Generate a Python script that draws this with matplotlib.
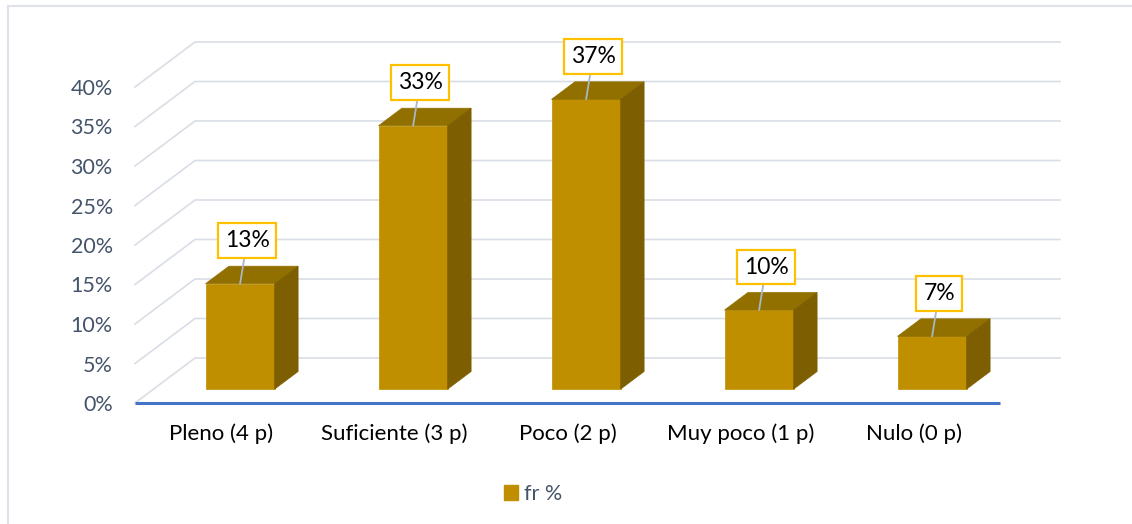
import numpy as np
import matplotlib
matplotlib.use("Agg")
import matplotlib.pyplot as plt
from matplotlib.patches import Polygon, Patch
from matplotlib.lines import Line2D
from matplotlib.transforms import IdentityTransform

# ---- datos ----
categories = ["Pleno (4 p)", "Suficiente (3 p)", "Poco (2 p)", "Muy poco (1 p)", "Nulo (0 p)"]
fr_pct = [0.1333, 0.3333, 0.3667, 0.1000, 0.0667]
y_ticks = [0.0, 0.05, 0.10, 0.15, 0.20, 0.25, 0.30, 0.35, 0.40]
series_name = "fr %"

# ---- estilo ----
plt.rcParams['font.family'] = ['Lato', 'DejaVu Sans']
c_front = "#BF8F00"
c_top = "#927000"
c_side = "#7D5E00"
c_grid = "#D9DDE5"
c_axis = "#4472C4"
c_label_border = "#FFC000"
c_txt = "#44546A"

W, H = 1132, 524
fig = plt.figure(figsize=(W / 100, H / 100), dpi=100)

# plano frontal del grafico 3D
ax = fig.add_axes([135 / W, (H - 403) / H, 865 / W, 316 / H])
ax.set_xlim(-0.5, len(categories) - 0.5)
ax.set_ylim(0, 0.40)
for s in ax.spines.values():
    s.set_visible(False)
ax.set_facecolor("none")

# profundidad (pixeles)
depth = np.array([60.0, 45.0])
bar_front, bar_back = 0.31, 0.70
bar_w = 0.40

def px(x, y):
    return ax.transData.transform((x, y))

ident = IdentityTransform()

# rejilla: pared del fondo + diagonales
for t in y_ticks:
    p0 = px(-0.5, t)
    p1 = p0 + depth
    p2 = px(len(categories) - 0.5, t) + depth
    ax.add_line(Line2D([p0[0], p1[0], p2[0]], [p0[1], p1[1], p2[1]],
                       color=c_grid, lw=1.2, transform=ident, zorder=1, clip_on=False))

# eje horizontal
a0, a1 = px(-0.5, 0), px(len(categories) - 0.5, 0)
ax.add_line(Line2D([a0[0], a1[0]], [a0[1], a1[1]], color=c_axis, lw=2.2,
                   transform=ident, zorder=2, clip_on=False, solid_capstyle='butt'))

# barras 3D
for i, v in enumerate(fr_pct):
    fo = depth * bar_front
    bo = depth * bar_back
    bl = px(i - bar_w / 2, 0) + fo
    br = px(i + bar_w / 2, 0) + fo
    tl = px(i - bar_w / 2, v) + fo
    tr = px(i + bar_w / 2, v) + fo
    d = bo - fo
    front = [bl, br, tr, tl]
    top = [tl, tr, tr + d, tl + d]
    side = [br, br + d, tr + d, tr]
    for pts, col in ((front, c_front), (top, c_top), (side, c_side)):
        ax.add_patch(Polygon(pts, closed=True, facecolor=col, edgecolor=col,
                             lw=0.5, transform=ident, zorder=3, clip_on=False))

    # etiqueta de datos
    anchor = px(i, v) + fo
    ax.annotate(f"{v:.0%}", xy=anchor, xycoords='figure pixels',
                xytext=(7, 43), textcoords='offset pixels',
                ha='center', va='center', fontsize=16.5, color='black', zorder=5,
                bbox=dict(boxstyle='square,pad=0.3', fc='white',
                          ec=c_label_border, lw=1.6),
                arrowprops=dict(arrowstyle='-', color='#A9B6C8', lw=1.3,
                                shrinkA=0, shrinkB=0))

# ejes
ax.set_yticks(y_ticks)
ax.set_yticklabels([f"{t:.0%}" for t in y_ticks])
ax.set_xticks(range(len(categories)))
ax.set_xticklabels(categories)
ax.tick_params(axis='y', length=0, pad=16, labelsize=15.5, labelcolor=c_txt)
ax.tick_params(axis='x', length=0, pad=15, labelsize=16, labelcolor='black')
ax.grid(False)

# leyenda
ax.legend(handles=[Patch(facecolor=c_front, edgecolor=c_front, label=series_name)],
          loc='center', bbox_to_anchor=(533 / W, 30 / H), bbox_transform=fig.transFigure,
          frameon=False, fontsize=15.5, labelcolor=c_txt,
          handlelength=0.65, handleheight=0.65, handletextpad=0.3)

# marco del area del grafico
fig.add_artist(Line2D([8 / W, 1.0], [1 - 6 / H, 1 - 6 / H], color="#DFE2E8", lw=1.5,
                      transform=fig.transFigure))
fig.add_artist(Line2D([8 / W, 8 / W], [0, 1 - 6 / H], color="#DFE2E8", lw=1.5,
                      transform=fig.transFigure))

fig.savefig("out.png", dpi=100, facecolor="white")
